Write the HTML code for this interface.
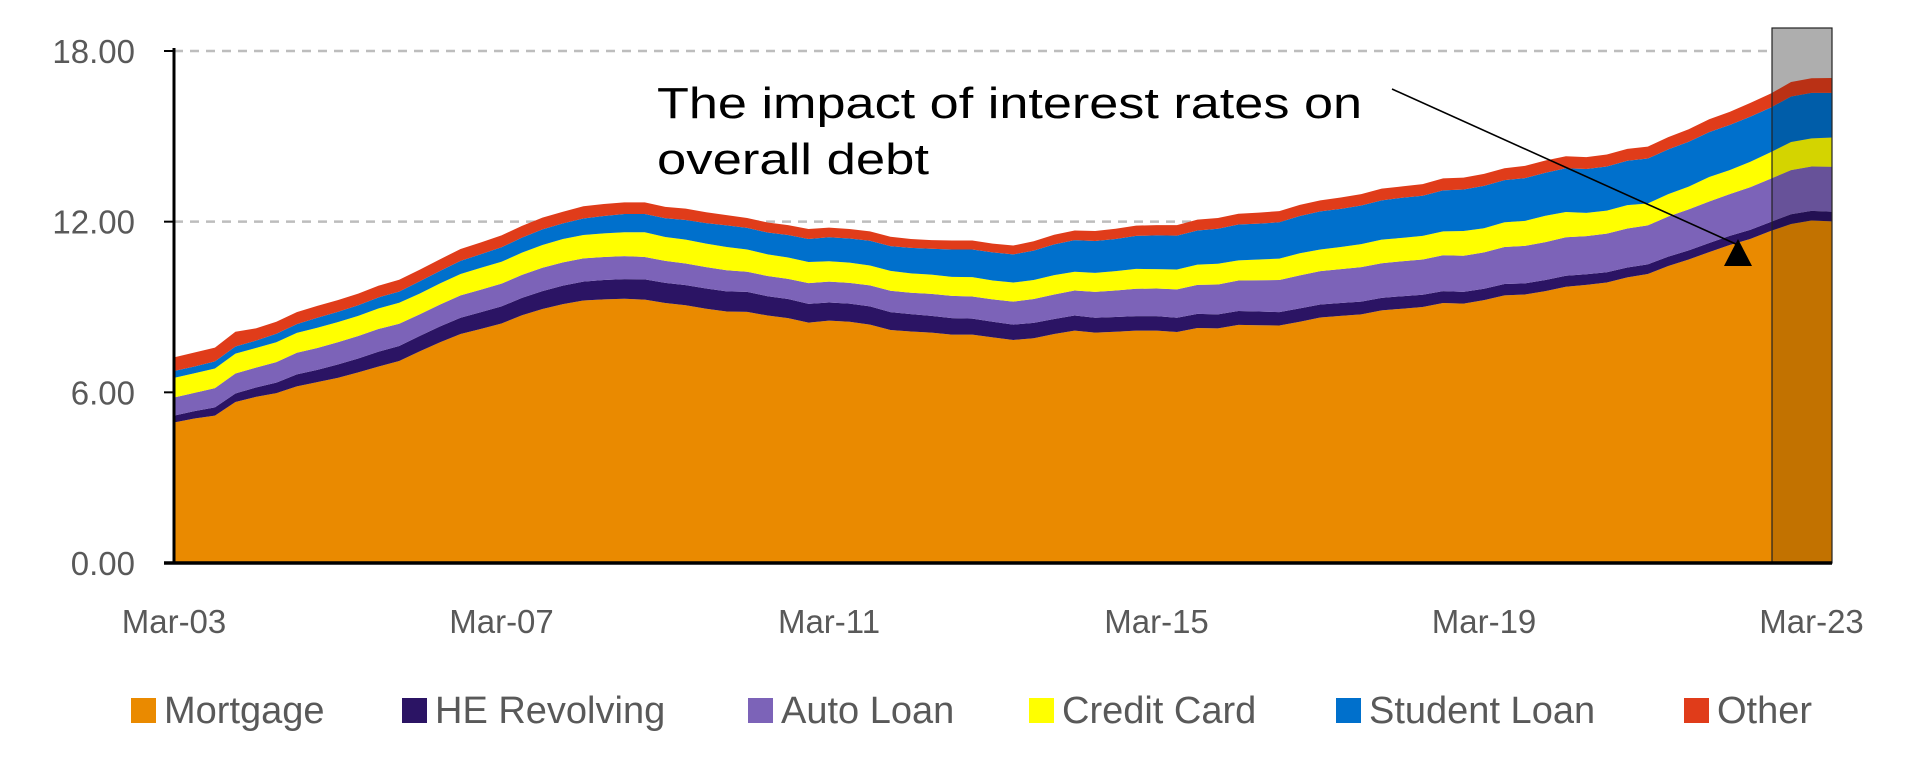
<!DOCTYPE html>
<html><head><meta charset="utf-8"><style>
html,body{margin:0;padding:0;background:#fff;}
svg{display:block;font-family:"Liberation Sans",sans-serif;}
</style></head><body>
<svg id="chart" width="1932" height="770" viewBox="0 0 1932 770">
<g id="grid"></g>
<rect x="1772" y="28" width="60" height="535" fill="#d2d2d2"/>
<g id="areas"></g>
<rect x="1772" y="28" width="60" height="535" fill="rgba(0,0,0,0.17)" stroke="#222" stroke-width="1.2"/>
<g id="axes"></g>
<text x="657" y="118" font-size="44" fill="#000" textLength="705" lengthAdjust="spacingAndGlyphs">The impact of interest rates on</text>
<text x="657" y="174" font-size="44" fill="#000" textLength="272" lengthAdjust="spacingAndGlyphs">overall debt</text>
<line x1="1392" y1="89" x2="1738" y2="245" stroke="#000" stroke-width="1.6"/>
<polygon points="1738,239 1724,266 1752,266" fill="#000"/>
<g id="legend"></g>
</svg>
<script>
const categories = ["Mar-03","Mar-07","Mar-11","Mar-15","Mar-19","Mar-23"];
const mortgage = [4.94,5.08,5.18,5.66,5.84,5.97,6.21,6.36,6.51,6.70,6.91,7.10,7.44,7.76,8.05,8.23,8.42,8.71,8.93,9.10,9.23,9.27,9.29,9.26,9.14,9.06,8.94,8.84,8.83,8.70,8.61,8.45,8.52,8.48,8.38,8.19,8.14,8.10,8.03,8.03,7.93,7.84,7.90,8.05,8.17,8.10,8.13,8.17,8.17,8.12,8.26,8.25,8.37,8.36,8.35,8.48,8.63,8.69,8.74,8.88,8.94,9.00,9.14,9.12,9.24,9.41,9.44,9.56,9.71,9.78,9.86,10.04,10.16,10.44,10.67,10.93,11.18,11.39,11.67,11.92,12.04,12.01];
const heRevolving = [.24,.26,.29,.30,.33,.37,.42,.43,.47,.49,.52,.53,.54,.56,.57,.59,.60,.61,.63,.65,.66,.68,.69,.71,.71,.71,.71,.71,.70,.68,.67,.66,.64,.64,.64,.63,.61,.59,.58,.56,.55,.54,.54,.53,.53,.52,.52,.51,.51,.50,.50,.49,.49,.48,.47,.47,.46,.45,.45,.44,.44,.43,.42,.41,.40,.40,.39,.39,.39,.37,.36,.35,.34,.33,.32,.32,.32,.32,.32,.34,.34,.34];
const autoLoan = [.64,.64,.68,.70,.70,.72,.76,.77,.78,.79,.80,.78,.76,.77,.79,.79,.80,.81,.82,.82,.82,.81,.81,.79,.77,.76,.75,.74,.71,.71,.71,.73,.73,.73,.74,.75,.75,.77,.78,.78,.79,.81,.84,.86,.88,.91,.93,.96,.97,1.0,1.02,1.05,1.07,1.10,1.13,1.16,1.17,1.19,1.21,1.22,1.23,1.24,1.26,1.27,1.28,1.30,1.32,1.33,1.35,1.34,1.36,1.37,1.37,1.41,1.44,1.46,1.47,1.50,1.52,1.55,1.56,1.58];
const creditCard = [.69,.69,.69,.70,.69,.70,.70,.71,.71,.71,.72,.74,.73,.74,.75,.77,.77,.78,.80,.82,.82,.83,.84,.87,.84,.84,.83,.82,.78,.76,.75,.74,.72,.71,.70,.70,.68,.68,.67,.68,.66,.67,.67,.68,.66,.67,.68,.70,.68,.70,.71,.73,.71,.73,.75,.78,.76,.78,.81,.83,.82,.83,.84,.87,.85,.87,.88,.93,.89,.82,.81,.82,.77,.79,.80,.86,.84,.89,.93,.99,.99,1.03];
const studentLoan = [.24,.24,.25,.25,.26,.30,.31,.35,.36,.37,.39,.39,.43,.44,.46,.48,.51,.53,.55,.55,.58,.61,.64,.64,.66,.69,.72,.76,.76,.77,.79,.81,.84,.85,.87,.87,.90,.91,.96,.97,.99,.99,1.03,1.08,1.11,1.12,1.13,1.16,1.19,1.19,1.20,1.23,1.26,1.26,1.28,1.31,1.34,1.34,1.36,1.38,1.41,1.41,1.44,1.46,1.49,1.48,1.50,1.51,1.54,1.54,1.55,1.56,1.58,1.57,1.58,1.58,1.59,1.59,1.57,1.60,1.60,1.57];
const other = [.48,.49,.48,.52,.43,.42,.42,.42,.41,.41,.41,.42,.41,.41,.42,.41,.42,.41,.41,.41,.43,.42,.41,.41,.40,.40,.38,.36,.35,.35,.35,.35,.34,.33,.33,.33,.31,.30,.32,.32,.31,.31,.33,.34,.34,.35,.36,.36,.36,.37,.38,.38,.38,.39,.39,.39,.39,.40,.40,.41,.40,.41,.42,.42,.42,.42,.43,.43,.42,.42,.42,.42,.42,.43,.44,.45,.46,.48,.49,.51,.51,.52];
const yTicks = ["0.00","6.00","12.00","18.00"];
const seriesNames = ["Mortgage","HE Revolving","Auto Loan","Credit Card","Student Loan","Other"];

const NS="http://www.w3.org/2000/svg";
const X0=174, X1=1832, Y0=563, YMAX=18, YTOP=51;
const N=mortgage.length;
function xs(i){return X0+(X1-X0)*i/(N-1);}
function ys(v){return Y0-(Y0-YTOP)*v/YMAX;}
function mk(tag,attrs,parent){const e=document.createElementNS(NS,tag);for(const k in attrs)e.setAttribute(k,attrs[k]);parent.appendChild(e);return e;}

const series=[mortgage,heRevolving,autoLoan,creditCard,studentLoan,other];
const colors=["#EA8A00","#2B1464","#7C63B8","#FFFF00","#0070CC","#E03C1A"];
const keys=["mortgage","he-revolving","auto-loan","credit-card","student-loan","other"];

// gridlines
const grid=document.getElementById('grid');
yTicks.forEach(t=>{
  const v=parseFloat(t); if(v===0) return;
  const l=mk('line',{x1:X0,x2:X1,y1:ys(v),y2:ys(v),stroke:'#bdbdbd','stroke-width':2.5,'stroke-dasharray':'9,7'},grid);
  
  
});

// areas
const areas=document.getElementById('areas');
let base=new Array(N).fill(0);
series.forEach((s,k)=>{
  const top=s.map((v,i)=>base[i]+v);
  let d='M'+xs(0)+','+ys(top[0]);
  for(let i=1;i<N;i++) d+=' L'+xs(i)+','+ys(top[i]);
  for(let i=N-1;i>=0;i--) d+=' L'+xs(i)+','+ys(base[i]);
  d+='Z';
  const p=mk('path',{d:d,fill:colors[k]},areas);
  
  
  base=top;
});

// axes
const axes=document.getElementById('axes');
const ya=mk('line',{x1:X0,x2:X0,y1:YTOP-3,y2:Y0,stroke:'#000','stroke-width':3},axes);


const xa=mk('line',{x1:X0-10,x2:X1,y1:Y0,y2:Y0,stroke:'#000','stroke-width':3.5},axes);


yTicks.forEach(t=>{
  const v=parseFloat(t);
  const tk=mk('line',{x1:X0-10,x2:X0,y1:ys(v),y2:ys(v),stroke:'#000','stroke-width':2},axes);
  
  
  const tx=mk('text',{x:135,y:ys(v)+12,'text-anchor':'end','font-size':33,fill:'#595959'},axes);
  tx.textContent=t;
  
  
});
categories.forEach((c,j)=>{
  const i=j*16;
  const tx=mk('text',{x:xs(i),y:633,'text-anchor':'middle','font-size':33,fill:'#595959'},axes);
  tx.textContent=c;
  
  
});

// legend
const legend=document.getElementById('legend');
const lsq=[131,402,748,1029,1336,1684];
seriesNames.forEach((n,k)=>{
  const g=mk('g',{},legend);
  
  
  const r=mk('rect',{x:lsq[k],y:698,width:25,height:25,fill:colors[k]},g);
  
  
  const t=mk('text',{x:lsq[k]+33,y:723,'font-size':38,fill:'#595959'},g);
  t.textContent=n;
  
  
});
</script>
</body></html>
